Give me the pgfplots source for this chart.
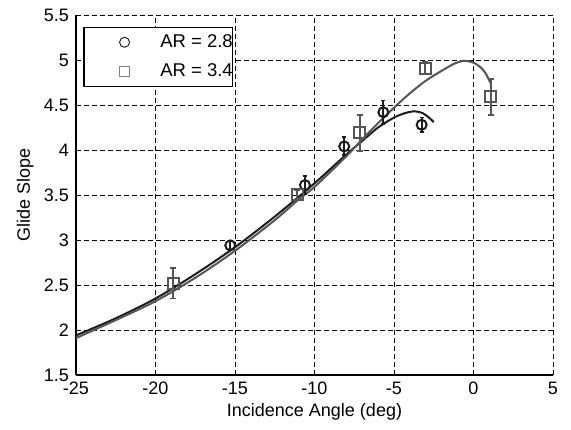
\documentclass[border=0pt]{standalone}
\usepackage{pgfplots}
\pgfplotsset{compat=1.18}
\usepackage{fontspec}
\setmainfont{Liberation Sans}
\definecolor{cblack}{HTML}{1C1C1C}
\definecolor{cgray}{HTML}{555555}
\begin{document}
\fontsize{18}{21}\selectfont
\begin{tikzpicture}
\begin{axis}[
  scale only axis, width=477pt, height=360pt,
  xmin=-25, xmax=5, ymin=1.5, ymax=5.5,
  xtick={-25,-20,...,5}, ytick={1.5,2,...,5.5},
  yticklabels={1.5,2,2.5,3,3.5,4,4.5,5,5.5},
  axis x line*=bottom, axis y line*=left,
  axis line style={line width=1.4pt,-},
  tick align=inside, major tick length=5pt,
  tick style={line width=0.8pt,black},
  grid=major, major grid style={dash pattern=on 5pt off 3pt, black, line width=0.8pt},
  /pgf/number format/assume math mode=true,
  ticklabel style={font=\fontsize{18}{21}\selectfont},
  xticklabel style={yshift=-1pt},
  yticklabel style={xshift=-1pt},
  xlabel={Incidence Angle (deg)}, ylabel={Glide Slope},
  label style={font=\fontsize{18}{21}\selectfont},
  xlabel style={yshift=4pt}, ylabel style={yshift=-2pt},
  legend style={at={(0.015,0.967)}, anchor=north west, draw=black, line width=1.4pt,
    font=\fontsize{18.5}{21}\selectfont, inner sep=0pt, nodes={inner sep=0pt}},
  legend cell align=left,
  legend image code/.code={\path (-40pt,-14pt) (35pt,14pt); \draw[#1] plot coordinates {(0pt,0pt)};},
  legend entries={AR = 2.8\hspace{9pt}, AR = 3.4\hspace{9pt}},
]
\addlegendimage{only marks, mark=o, mark size=5pt, black, mark options={line width=0.8pt}}
\addlegendimage{only marks, mark=square, mark size=5pt, gray, mark options={line width=0.8pt}}
\addplot[cblack, line width=2pt, smooth, forget plot] coordinates {
(-25,1.94) (-22.5,2.13) (-20,2.35) (-17.5,2.62) (-15,2.92) (-12.5,3.26) (-10,3.63)
(-8,3.95) (-7,4.10) (-6,4.25) (-5,4.36) (-4.3,4.41) (-3.7,4.43) (-3.2,4.41) (-2.8,4.36) (-2.5,4.31)};
\addplot[cgray, line width=2pt, smooth, forget plot] coordinates {
(-25,1.91) (-22.5,2.11) (-20,2.32) (-17.5,2.58) (-15,2.88) (-12.5,3.22) (-11,3.45) (-10,3.59)
(-8,3.93) (-6.5,4.21) (-5,4.47) (-4,4.63) (-3,4.77) (-2,4.88) (-1.2,4.96) (-0.6,4.99) (0,4.97)
(0.5,4.91) (0.8,4.84) (1.05,4.75)};
\addplot[cblack, only marks, mark=o, mark size=5pt, mark options={line width=2pt}, forget plot,
  error bars/.cd, y dir=both, y explicit, error bar style={line width=1.8pt}, error mark options={rotate=90, mark size=2pt, line width=1.8pt}]
  coordinates {(-15.3,2.94) +- (0,0.05) (-10.6,3.61) +- (0,0.1) (-8.13,4.04) +- (0,0.1) (-5.67,4.42) +- (0,0.13) (-3.26,4.28) +- (0,0.08)};
\addplot[cgray, only marks, mark=square, mark size=5.5pt, mark options={line width=2pt}, forget plot,
  error bars/.cd, y dir=both, y explicit, error bar style={line width=1.8pt}, error mark options={rotate=90, mark size=3pt, line width=1.8pt}]
  coordinates {(-18.88,2.52) +- (0,0.17) (-11.1,3.5) +- (0,0.05) (-7.14,4.19) +- (0,0.2) (-3.05,4.91) +- (0,0.07) (1.08,4.59) +- (0,0.2)};
\coordinate (bl) at (rel axis cs:0,0);
\coordinate (tr) at (rel axis cs:1,1);
\end{axis}
\pgfresetboundingbox
\path[use as bounding box] ([xshift=-76pt,yshift=-55pt]bl) rectangle ([xshift=18pt,yshift=15pt]tr);
\end{tikzpicture}
\end{document}
